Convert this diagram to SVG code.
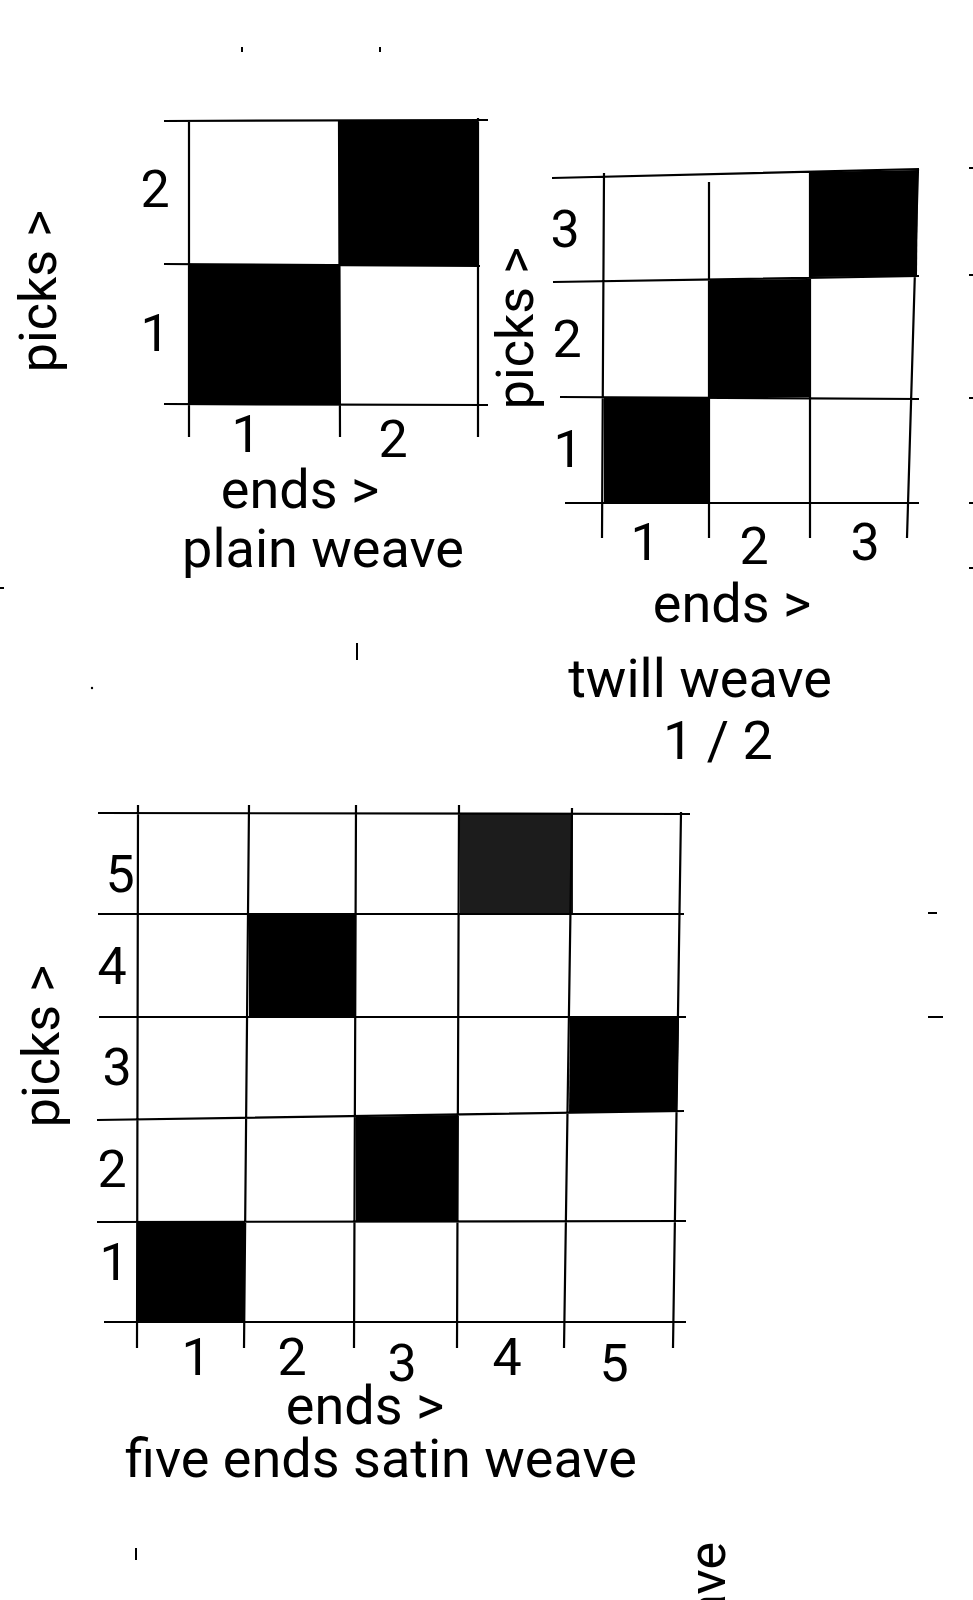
<svg xmlns="http://www.w3.org/2000/svg" width="973" height="1600" viewBox="0 0 973 1600">
<style>
.g{stroke:#000;stroke-width:2.2;fill:none;stroke-linecap:butt}
.b{fill:#000}
.t{font-family:Roboto,"Liberation Sans",sans-serif;font-size:52px;fill:#000;text-anchor:middle}
.w{font-size:54px}
.m{stroke:#000;stroke-width:2;fill:none}
</style>
<rect width="973" height="1600" fill="#fff"/>

<g id="plain-weave">
  <rect class="b" x="189" y="264" width="150" height="140"/>
  <rect class="b" x="339" y="121" width="139" height="144"/>
  <path class="g" d="M164 121 L488 120 M164 264 L480 266 M164 404 L488 405 M189 121 L189 437 M339 121 L340 437 M478 118 L478 437"/>
  <text class="t" x="155" y="207">2</text>
  <text class="t" x="155" y="351">1</text>
  <text class="t" x="246" y="452">1</text>
  <text class="t" x="393" y="457">2</text>
  <text class="t w" x="300" y="508">ends &gt;</text>
  <text class="t w" x="323" y="567">plain weave</text>
  <text class="t" transform="translate(56,291) rotate(-90)">picks &gt;</text>
</g>

<g id="twill-weave">
  <polygon class="b" points="604,397 710,397 710,503 604,503"/>
  <polygon class="b" points="710,280 809,279 809,397 710,397"/>
  <polygon class="b" points="810,172 918,170 917,276 810,277"/>
  <path class="g" d="M552 178 L919 169 M553 282 L919 276 M560 397 L919 399 M565 503 L919 503 M604 173 L602 538 M709 182 L709 538 M810 172 L810 538 M918 169 L907 538"/>
  <text class="t" x="565" y="247">3</text>
  <text class="t" x="567" y="357">2</text>
  <text class="t" x="568" y="467">1</text>
  <text class="t" x="645" y="560">1</text>
  <text class="t" x="754" y="564">2</text>
  <text class="t" x="865" y="560">3</text>
  <text class="t w" x="732" y="622">ends &gt;</text>
  <text class="t w" x="700" y="697">twill weave</text>
  <text class="t w" x="718" y="759">1 / 2</text>
  <text class="t" transform="translate(533,328) rotate(-90)">picks &gt;</text>
</g>

<g id="satin-weave">
  <rect x="460" y="813" width="113" height="101" fill="#1c1c1c"/>
  <rect class="b" x="249" y="914" width="107" height="103"/>
  <polygon class="b" points="570,1017 679,1017 677,1111 569,1113"/>
  <polygon class="b" points="356,1117 458,1115 458,1222 356,1222"/>
  <rect class="b" x="137" y="1222" width="108" height="100"/>
  <path class="g" d="M98 813 L690 814 M98 914 L684 914 M99 1017 L686 1017 M97 1120 L684 1111 M97 1222 L686 1221 M104 1322 L686 1322 M138 805 L137 1348 M249 805 L244 1348 M356 805 L354 1348 M459 805 L457 1348 M572 808 L564 1348 M681 812 L673 1348"/>
  <text class="t" x="120" y="892">5</text>
  <text class="t" x="112" y="984">4</text>
  <text class="t" x="117" y="1085">3</text>
  <text class="t" x="112" y="1187">2</text>
  <text class="t" x="114" y="1280">1</text>
  <text class="t" x="196" y="1375">1</text>
  <text class="t" x="292" y="1375">2</text>
  <text class="t" x="402" y="1381">3</text>
  <text class="t" x="507" y="1375">4</text>
  <text class="t" x="614" y="1381">5</text>
  <text class="t w" x="365" y="1424">ends &gt;</text>
  <text class="t w" x="381" y="1477">five ends satin weave</text>
  <text class="t" transform="translate(59,1046) rotate(-90)">picks &gt;</text>
</g>

<g id="stray">
  <text class="t" style="text-anchor:end" transform="translate(725,1542) rotate(-90)">weave</text>
  <path class="m" d="M242 47 L242 52 M380 47 L380 52 M0 588 L4 588 M357 643 L357 660 M969 168 L973 168 M969 275 L973 275 M969 398 L973 398 M969 503 L973 503 M969 568 L973 568 M928 913 L937 913 M928 1017 L943 1017 M136 1548 L136 1560"/>
  <circle cx="92" cy="688" r="1.2" fill="#000"/>
</g>
</svg>
